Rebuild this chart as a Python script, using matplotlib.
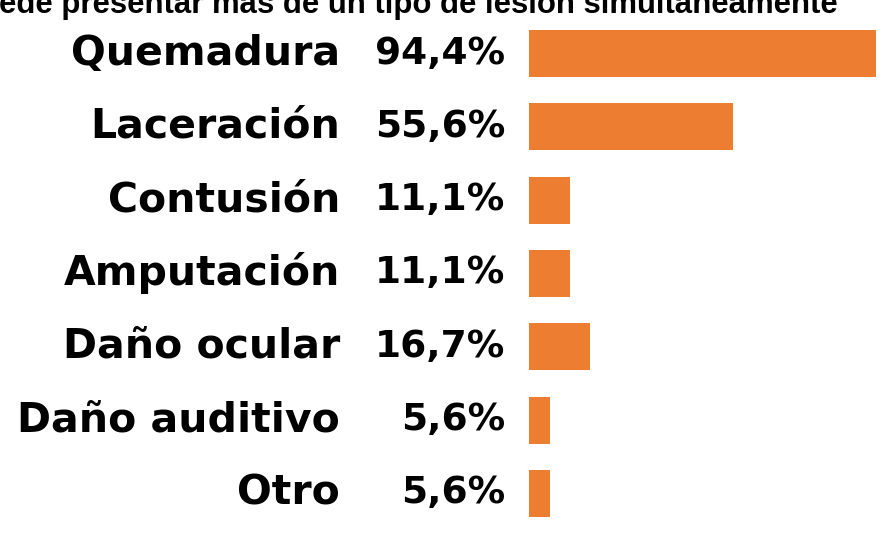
import matplotlib
matplotlib.use("Agg")
import matplotlib.pyplot as plt

# Tipos de lesión y porcentaje de casos
categories = ["Quemadura", "Laceración", "Contusión", "Amputación",
              "Daño ocular", "Daño auditivo", "Otro"]
values = [94.4, 55.6, 11.1, 11.1, 16.7, 5.6, 5.6]
value_labels = ["94,4%", "55,6%", "11,1%", "11,1%", "16,7%", "5,6%", "5,6%"]
note = "ede presentar más de un tipo de lesión simultáneamente"

W, H = 882, 541
fig = plt.figure(figsize=(W / 100, H / 100), dpi=100)

# axes placed so bars start at x=529 px
left = 529 / W
ax = fig.add_axes([left, 1 - 530 / H, 1 - left, (530 - 17) / H])

y = list(range(len(categories)))
ax.barh(y, values, height=0.64, color="#ed7d31")
ax.set_xlim(0, 96)
ax.set_ylim(len(categories) - 0.5, -0.5)
ax.axis("off")

# category names and values drawn as text to the left of the bars
for i in y:
    yc = ax.transData.transform((0, i))[1] / H
    ax.text(340 / W, yc, categories[i], transform=fig.transFigure,
            ha="right", va="center", fontsize=29.5, fontweight="bold",
            family="DejaVu Sans")
    ax.text(505 / W, yc, value_labels[i], transform=fig.transFigure,
            ha="right", va="center", fontsize=27, fontweight="bold",
            family="DejaVu Sans")

# the note is cut at the top edge, as in the original
fig.text(838 / W, 1 - 13 / H, note, ha="right", va="baseline",
         fontsize=22.4, fontweight="bold", family="Liberation Sans")

fig.savefig("out.png", dpi=100)
